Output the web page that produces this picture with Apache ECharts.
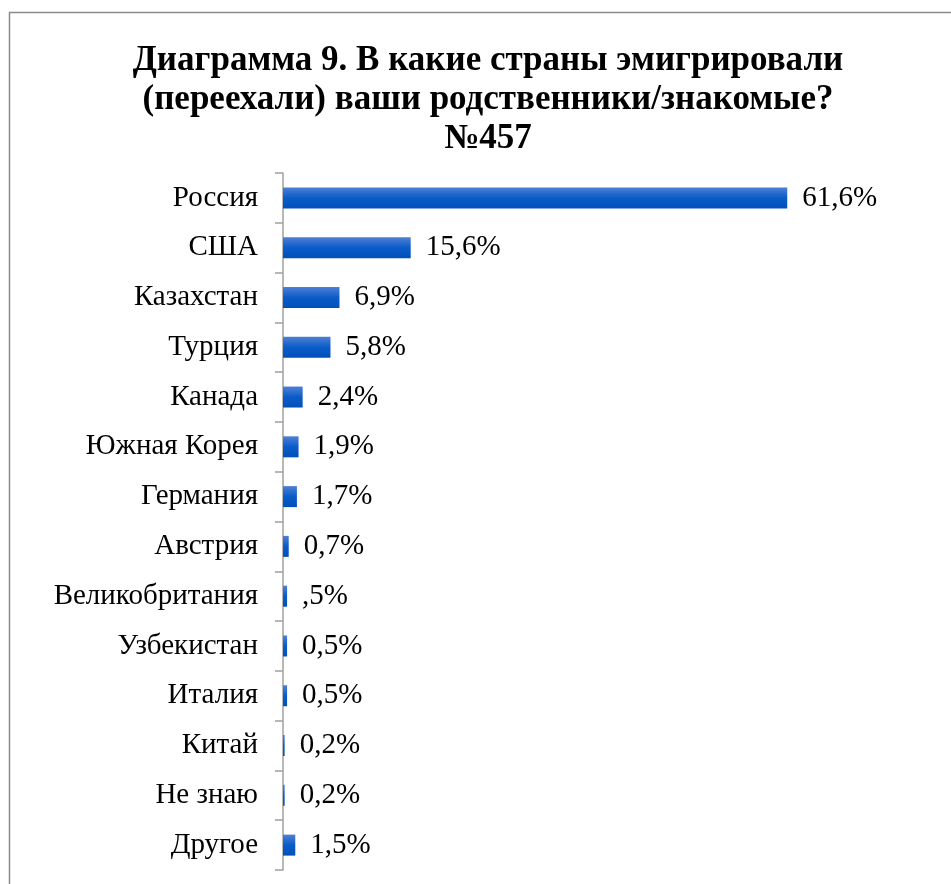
<!DOCTYPE html>
<html>
<head>
<meta charset="utf-8">
<script src="https://cdn.jsdelivr.net/npm/echarts@6/dist/echarts.min.js"></script>
<style>
html,body{margin:0;padding:0;background:#fff;}
#chart{width:951px;height:884px;}
</style>
</head>
<body>
<div id="chart"></div>
<script>
const categories = ['Россия','США','Казахстан','Турция','Канада','Южная Корея','Германия','Австрия','Великобритания','Узбекистан','Италия','Китай','Не знаю','Другое'];
const values = [61.6,15.6,6.9,5.8,2.4,1.9,1.7,0.7,0.5,0.5,0.5,0.2,0.2,1.5];
const valueLabels = ['61,6%','15,6%','6,9%','5,8%','2,4%','1,9%','1,7%','0,7%',',5%','0,5%','0,5%','0,2%','0,2%','1,5%'];
const titleText = 'Диаграмма 9. В какие страны эмигрировали\n(переехали) ваши родственники/знакомые?\n№457';

const chart = echarts.init(document.getElementById('chart'));
chart.setOption({
  backgroundColor: '#fff',
  animation: false,
  title: {
    text: titleText,
    left: 488,
    textAlign: 'center',
    top: 41,
    padding: 0,
    textStyle: {
      fontFamily: 'Liberation Serif',
      fontWeight: 'bold',
      fontSize: 35,
      lineHeight: 39,
      color: '#000'
    }
  },
  graphic: [{
    type: 'rect',
    shape: {x: 9.5, y: 12.5, width: 1000, height: 1000},
    style: {fill: 'none', stroke: '#8a8a8a', lineWidth: 1.5},
    silent: true
  }],
  grid: {left: 283, top: 173, width: 573, height: 697},
  xAxis: {
    type: 'value',
    min: 0,
    max: 70,
    show: false
  },
  yAxis: {
    type: 'category',
    data: categories,
    inverse: true,
    axisLine: {show: true, lineStyle: {color: '#a0a0a0', width: 1.5}},
    axisTick: {show: true, length: 8, lineStyle: {color: '#a0a0a0', width: 1.5}},
    axisLabel: {
      margin: 25,
      fontFamily: 'Liberation Serif',
      fontSize: 29,
      color: '#000'
    }
  },
  series: [{
    type: 'bar',
    data: values,
    barWidth: 21,
    itemStyle: {
      color: new echarts.graphic.LinearGradient(0, 0, 0, 1, [
        {offset: 0, color: '#4f80d6'},
        {offset: 0.5, color: '#0a5cc8'},
        {offset: 1, color: '#0050bb'}
      ])
    },
    label: {
      show: true,
      position: 'right',
      distance: 15,
      fontFamily: 'Liberation Serif',
      fontSize: 29,
      color: '#000',
      formatter: p => valueLabels[p.dataIndex]
    }
  }]
});
</script>
</body>
</html>
